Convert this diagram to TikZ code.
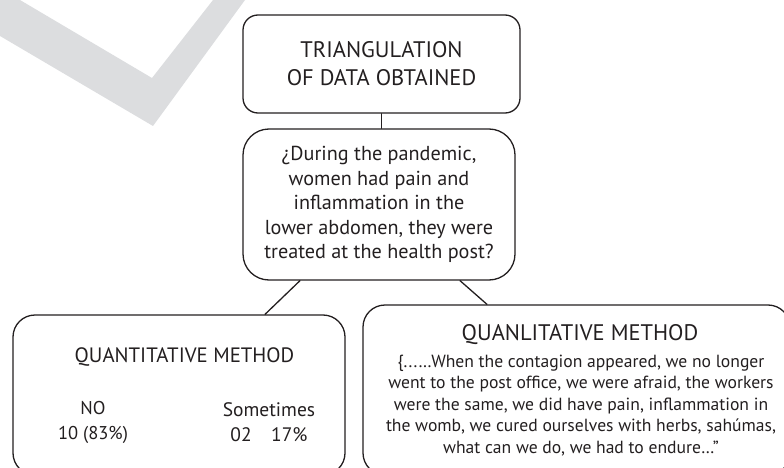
\documentclass[tikz,border=0pt]{standalone}
\usepackage{fontspec}
\setmainfont{PT Sans}
\definecolor{inkgray}{HTML}{231F20}
\definecolor{markgray}{HTML}{DCDDDF}
\begin{document}
\begin{tikzpicture}[x=1pt,y=-1pt,line cap=round,line join=round,
    box/.style={draw=inkgray,line width=1.3pt,rounded corners=#1,inner sep=0pt,align=center,text=inkgray},
    box/.default=18pt,
    txt/.style={text=inkgray,inner sep=0pt,align=center},
    conn/.style={draw=inkgray,line width=1.3pt}]
  \useasboundingbox (0,0) rectangle (784,468);
  % watermark
  \fill[markgray] (0,0) -- (20,0) -- (152,78) -- (213,0) -- (245,0) -- (153,126) -- (0,36) -- cycle;

  \node[box=15pt,minimum width=277pt,minimum height=98pt,font=\fontsize{22.5}{28}\selectfont] (tri) at (381.5,64)
       {TRIANGULATION\\OF DATA OBTAINED};
  \node[box=26pt,minimum width=272pt,minimum height=151pt,font=\fontsize{20.2}{24.5}\selectfont] (quest) at (379,204.5)
       {¿During the pandemic,\\women had pain and\\inflammation in the\\lower abdomen, they were\\treated at the health post?};
  \node[box=22pt,minimum width=332pt,minimum height=160pt] (qnt) at (179,395) {};
  \node[box=22pt,minimum width=427pt,minimum height=170pt] (qual) at (576.5,390) {};

  % quantitative
  \node[txt,font=\fontsize{20.8}{24}\selectfont] (qnttitle) at (184.5,357) {QUANTITATIVE METHOD};
  \node[txt,font=\fontsize{18.5}{25}\selectfont] (qntno) at (93,422.5) {NO\\10 (83\%)};
  \node[txt,font=\fontsize{19.5}{25}\selectfont] (qntsome) at (269,422.5) {Sometimes\\02\quad 17\%};

  % qualitative
  \node[txt,font=\fontsize{22.5}{26}\selectfont] (qualtitle) at (580,335) {QUANLITATIVE METHOD};
  \node[txt,font=\fontsize{17.6}{21.5}\selectfont] (qualquote) at (581,405.5)
       {\{...…When the contagion appeared, we no longer\\went to the post office, we were afraid, the workers\\were the same, we did have pain, inflammation in\\the womb, we cured ourselves with herbs, sahúmas,\\what can we do, we had to endure…”};

  \draw[conn] (tri.south) -- (tri.south |- quest.north);
  \draw[conn] ([xshift=-79pt]quest.south) -- ([xshift=86pt]qnt.north);
  \draw[conn] ([xshift=81pt]quest.south) -- ([xshift=-89.5pt]qual.north);
\end{tikzpicture}
\end{document}
